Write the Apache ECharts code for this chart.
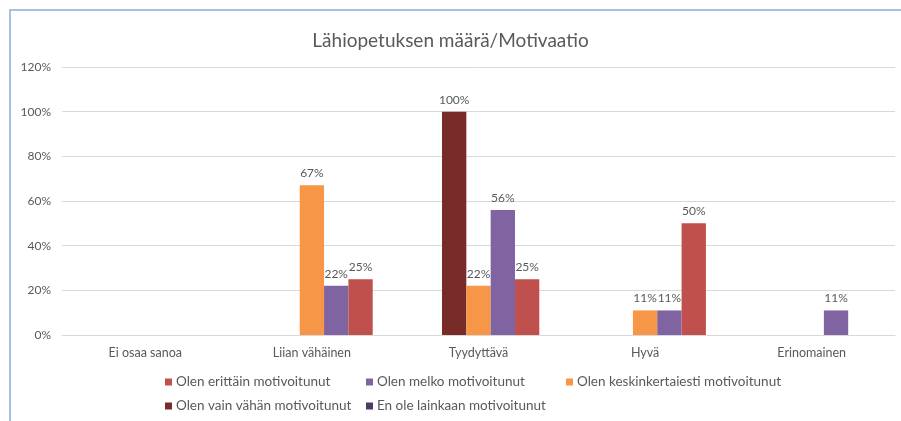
<!DOCTYPE html>
<html>
<head>
<meta charset="utf-8">
<script src="https://cdn.jsdelivr.net/npm/echarts@6/dist/echarts.min.js"></script>
<style>
  html, body { margin: 0; padding: 0; background: #fff; }
  #chart { width: 901px; height: 421px; }
</style>
</head>
<body>
<div id="chart"></div>
<script>
const categories = ['Ei osaa sanoa', 'Liian vähäinen', 'Tyydyttävä', 'Hyvä', 'Erinomainen'];

// values in percent, null = no bar
const enOleLainkaan = [null, null, null, null, null];
const olenVainVahan = [null, null, 100, null, null];
const olenKeskinkertaisesti = [null, 67, 22, 11, null];
const olenMelko = [null, 22, 56, 11, 11];
const olenErittain = [null, 25, 25, 50, null];

const yTicks = [0, 20, 40, 60, 80, 100, 120];

const names = {
  erittain: 'Olen erittäin motivoitunut',
  melko: 'Olen melko motivoitunut',
  keskink: 'Olen keskinkertaiesti motivoitunut',
  vahan: 'Olen vain vähän motivoitunut',
  lainkaan: 'En ole lainkaan motivoitunut'
};

const font = 'Lato, "Open Sans", sans-serif';
const textColor = '#595959';

const chart = echarts.init(document.getElementById('chart'));

function bar(name, data, color) {
  return {
    name: name,
    type: 'bar',
    data: data,
    barGap: '0%',
    barCategoryGap: '27%',
    itemStyle: { color: color },
    label: {
      show: true,
      position: 'top',
      distance: 6,
      formatter: '{c}%',
      color: textColor,
      fontFamily: font,
      fontSize: 12
    }
  };
}

// one small legend per item so the columns line up like the original
const legendSpots = [
  { name: names.erittain, left: 165, top: 375 },
  { name: names.melko, left: 366, top: 375 },
  { name: names.keskink, left: 566, top: 375 },
  { name: names.vahan, left: 165, top: 399 },
  { name: names.lainkaan, left: 366, top: 399 }
];

const option = {
  animation: false,
  title: {
    text: 'Lähiopetuksen määrä/Motivaatio',
    left: 'center',
    top: 26,
    textStyle: { color: textColor, fontFamily: font, fontSize: 19, fontWeight: 'normal' }
  },
  legend: legendSpots.map(s => ({
    data: [s.name],
    left: s.left,
    top: s.top,
    icon: 'rect',
    itemWidth: 7,
    itemHeight: 7,
    itemGap: 4,
    padding: 0,
    textStyle: { color: textColor, fontFamily: font, fontSize: 13.5, padding: [0, 0, 0, -1] }
  })),
  grid: { left: 62, right: 6, top: 67, bottom: 86, containLabel: false },
  xAxis: {
    type: 'category',
    data: categories,
    axisLine: { lineStyle: { color: '#d9d9d9', width: 1 } },
    axisTick: { show: false },
    axisLabel: { color: textColor, fontFamily: font, fontSize: 12.5, margin: 11 }
  },
  yAxis: {
    type: 'value',
    min: yTicks[0],
    max: yTicks[yTicks.length - 1],
    interval: 20,
    axisLine: { show: false },
    axisTick: { show: false },
    splitLine: { lineStyle: { color: '#d9d9d9', width: 1 } },
    axisLabel: { formatter: '{value}%', color: textColor, fontFamily: font, fontSize: 12, margin: 11 }
  },
  graphic: [{
    type: 'polyline',
    shape: { points: [[10, 440], [10, 10], [920, 10]] },
    style: { fill: null, stroke: '#a9c0e2', lineWidth: 2 },
    silent: true
  }],
  series: [
    bar(names.lainkaan, enOleLainkaan, '#4d3b62'),
    bar(names.vahan, olenVainVahan, '#772c2a'),
    bar(names.keskink, olenKeskinkertaisesti, '#f79646'),
    bar(names.melko, olenMelko, '#8064a2'),
    bar(names.erittain, olenErittain, '#c0504d')
  ]
};

chart.setOption(option);
</script>
</body>
</html>
